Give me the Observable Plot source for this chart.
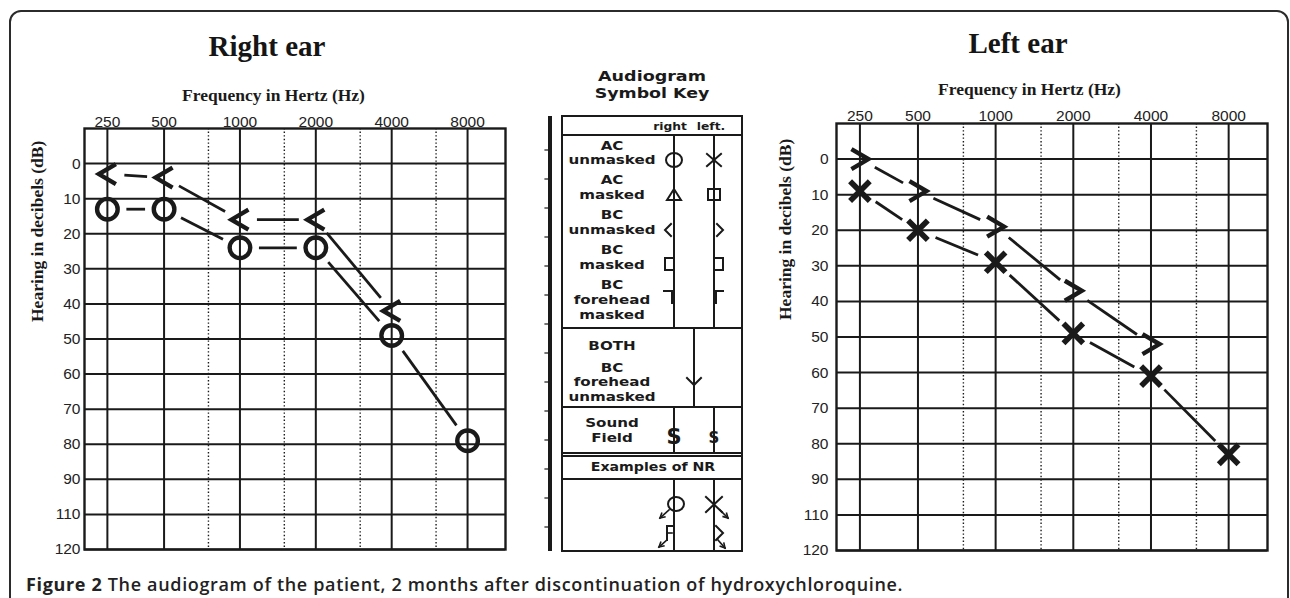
<!DOCTYPE html>
<html>
<head>
<meta charset="utf-8">
<script src="https://cdn.jsdelivr.net/npm/d3@7"></script>
<script src="https://cdn.jsdelivr.net/npm/@observablehq/plot@0.6"></script>
<style>
  html, body { margin: 0; padding: 0; background: #fff; }
  body { width: 1290px; height: 598px; overflow: hidden; position: relative; color: #1a1a1a; }
  #frame { position: absolute; left: 9px; top: 10px; width: 1280px; height: 640px; border: 2px solid #2b2b2b; border-radius: 12px; box-sizing: border-box; }
  .title { position: absolute; font-family: "Liberation Serif", serif; font-weight: bold; font-size: 29px; transform: translate(-50%, -50%); white-space: nowrap; color: #151515; }
  #caption { position: absolute; left: 26px; top: 573px; font-family: "Open Sans", sans-serif; font-size: 18px; font-weight: 600; color: #222; white-space: nowrap; line-height: 22px; }
  #caption b { font-weight: 700; }
  .chart { position: absolute; }
  .chart svg { overflow: visible; }
</style>
</head>
<body>
<div id="frame"></div>
<div class="title" style="left:267px; top:46px;">Right ear</div>
<div class="title" style="left:1018px; top:43px;">Left ear</div>
<div id="rightEar" class="chart" style="left:0px; top:70px;"></div>
<div id="key" class="chart" style="left:530px; top:60px;"></div>
<div id="leftEar" class="chart" style="left:760px; top:60px;"></div>
<div id="caption"><b>Figure 2</b> The audiogram of the patient, 2 months after discontinuation of hydroxychloroquine.</div>

<script>
// ---------------- data ----------------
const frequencies = [250, 500, 1000, 2000, 4000, 8000];
const frequencyLabels = ["250", "500", "1000", "2000", "4000", "8000"];
const midFrequencies = [750, 1500, 3000, 6000];
const dbSlots = [0, 10, 20, 30, 40, 50, 60, 70, 80, 90, 100, 110];
const dbTickLabels = ["0", "10", "20", "30", "40", "50", "60", "70", "80", "90", "110", "120"];

// Right ear (dB HL per frequency; null = not tested)
const rightAC = [13, 13, 24, 24, 49, 79];      // O  air conduction unmasked
const rightBC = [3, 4, 16, 16, 42, null];       // <  bone conduction unmasked
// Left ear
const leftAC = [9, 20, 29, 49, 61, 83];         // X  air conduction unmasked
const leftBC = [0, 9, 19, 37, 52, null];        // >  bone conduction unmasked

const xLabel = "Frequency in Hertz (Hz)";
const yLabel = "Hearing in decibels (dB)";

// ---------------- symbols ----------------
const chevronLeft = { draw(ctx, size) { const r = Math.sqrt(size / Math.PI); ctx.moveTo(0.85 * r, -r); ctx.lineTo(-0.85 * r, 0); ctx.lineTo(0.85 * r, r); } };
const chevronRight = { draw(ctx, size) { const r = Math.sqrt(size / Math.PI); ctx.moveTo(-0.85 * r, -r); ctx.lineTo(0.85 * r, 0); ctx.lineTo(-0.85 * r, r); } };

function toPoints(values) {
  return frequencies.map((f, i) => ({ f, db: values[i] })).filter(d => d.db != null);
}
function toSegments(points) {
  return d3.pairs(points).map(([a, b]) => ({ f1: a.f, d1: a.db, f2: b.f, d2: b.db }));
}

function audiogram(o) {
  const fw = o.width - o.ml - o.mr;
  const ac = toPoints(o.ac), bc = toPoints(o.bc);
  const ink = "#1a1a1a";
  const tickFont = { fontFamily: "Liberation Sans, sans-serif", fontSize: 15.5, fill: "#222" };
  return Plot.plot({
    width: o.width, height: o.height,
    marginTop: o.mt, marginRight: o.mr, marginBottom: o.mb, marginLeft: o.ml,
    style: { background: "transparent", color: ink, fontFamily: "Liberation Sans, sans-serif" },
    x: { type: "log", axis: null, domain: [189, 500, 11314], range: [o.ml, o.ml + fw * 0.189, o.ml + fw] },
    y: { axis: null, domain: [-10, 110], range: [o.mt, o.height - o.mb] },
    marks: [
      Plot.ruleX(midFrequencies, { stroke: ink, strokeWidth: 1.4, strokeDasharray: "1.4,2.2" }),
      Plot.ruleX(frequencies, { stroke: ink, strokeWidth: 2 }),
      Plot.ruleY(dbSlots, { stroke: ink, strokeWidth: 2 }),
      Plot.frame({ stroke: ink, strokeWidth: 2.4 }),
      // frequency tick labels along the top
      Plot.text(frequencies, { x: d => d, frameAnchor: "top", dy: o.xTickDy, text: (d, i) => frequencyLabels[i], ...tickFont }),
      // hearing level tick labels
      Plot.text(dbSlots, { y: d => d, frameAnchor: "left", dx: -o.yPad, textAnchor: "end", text: (d, i) => dbTickLabels[i], ...tickFont }),
      Plot.arrow(toSegments(bc), { x1: "f1", y1: "d1", x2: "f2", y2: "d2", headLength: 0, inset: 17, stroke: ink, strokeWidth: 2.8, strokeLinecap: "butt" }),
      Plot.arrow(toSegments(ac), { x1: "f1", y1: "d1", x2: "f2", y2: "d2", headLength: 0, inset: 19, stroke: ink, strokeWidth: 2.8, strokeLinecap: "butt" }),
      Plot.dot(bc, { x: "f", y: "db", symbol: o.bcSymbol, r: 10, fill: "none", stroke: ink, strokeWidth: 4.4 }),
      Plot.dot(ac, { x: "f", y: "db", symbol: o.acSymbol, r: o.acR, fill: "none", stroke: ink, strokeWidth: o.acStroke }),
      Plot.text([xLabel], { frameAnchor: "top", dy: o.xLabelDy, dx: o.xLabelDx, text: d => d, fontFamily: "Liberation Serif, serif", fontWeight: "bold", fontSize: 17.5, fill: ink }),
      Plot.text([yLabel], { frameAnchor: "left", rotate: -90, dx: o.yLabelDx, dy: -17, text: d => d, fontFamily: "Liberation Serif, serif", fontWeight: "bold", fontSize: 17.5, fill: ink })
    ]
  });
}

document.getElementById("rightEar").append(audiogram({
  width: 520, height: 490, mt: 58, mr: 15, mb: 11, ml: 84,
  ac: rightAC, bc: rightBC, acSymbol: "circle", acR: 10.3, acStroke: 4.4, bcSymbol: chevronLeft,
  xTickDy: -13, yPad: 4, xLabelDx: -21.5, xLabelDy: -40, yLabelDx: -47
}));
document.getElementById("leftEar").append(audiogram({
  width: 530, height: 500, mt: 63, mr: 23, mb: 10, ml: 76,
  ac: leftAC, bc: leftBC, acSymbol: "times", acR: 9, acStroke: 5.6, bcSymbol: chevronRight,
  xTickDy: -14, yPad: 8, xLabelDx: -22.5, xLabelDy: -41, yLabelDx: -51
}));

// ---------------- symbol key (legend) ----------------
const keyTitle = ["Audiogram", "Symbol Key"];
const keyLabels = [
  { y: 86, t: "AC" }, { y: 100, t: "unmasked" },
  { y: 120, t: "AC" }, { y: 135, t: "masked" },
  { y: 155, t: "BC" }, { y: 170, t: "unmasked" },
  { y: 190, t: "BC" }, { y: 205, t: "masked" },
  { y: 225, t: "BC" }, { y: 240, t: "forehead" }, { y: 255, t: "masked" },
  { y: 286, t: "BOTH" },
  { y: 308, t: "BC" }, { y: 322, t: "forehead" }, { y: 337, t: "unmasked" },
  { y: 363, t: "Sound" }, { y: 378, t: "Field" }
];
(function buildKey() {
  const ink = "#1a1a1a";
  const svg = d3.create("svg").attr("width", 230).attr("height", 500);
  const g = svg.append("g").attr("fill", "none").attr("stroke", ink).attr("stroke-linecap", "square");
  const L = (x1, y1, x2, y2, w = 2) => g.append("line").attr("x1", x1).attr("y1", y1).attr("x2", x2).attr("y2", y2).attr("stroke-width", w);
  const P = (d, w = 2) => g.append("path").attr("d", d).attr("stroke-width", w);
  const T = (x, y, s, size = 12, sx = 1.25) => svg.append("text")
      .attr("transform", `translate(${x},${y}) scale(${sx},1)`)
      .attr("text-anchor", "middle").attr("dominant-baseline", "central")
      .attr("font-family", "DejaVu Sans, sans-serif").attr("font-weight", "bold").attr("font-size", size).attr("fill", ink).text(s);
  const arrowHead = (x1, y1, x2, y2) => {
    L(x1, y1, x2, y2, 1.6);
    const a = Math.atan2(y2 - y1, x2 - x1), h = 5;
    P(`M${x2 - h * Math.cos(a - 0.5)},${y2 - h * Math.sin(a - 0.5)}L${x2},${y2}L${x2 - h * Math.cos(a + 0.5)},${y2 - h * Math.sin(a + 0.5)}`, 1.6);
  };
  // title
  T(122, 16, keyTitle[0], 14.5, 1.21);
  T(122, 33, keyTitle[1], 14.5, 1.2);
  // binder bar
  g.append("rect").attr("x", 18).attr("y", 56).attr("width", 4).attr("height", 435).attr("fill", ink).attr("stroke", "none");
  d3.range(90, 490, 29).forEach(y => L(15, y, 18, y, 1.2));
  // box and dividers
  g.append("rect").attr("x", 32).attr("y", 56).attr("width", 180).attr("height", 435).attr("stroke-width", 2);
  L(32, 75, 212, 75);
  L(144, 75, 144, 268); L(184, 75, 184, 268);
  L(32, 268, 212, 268);
  L(164, 268, 164, 347);
  L(32, 347, 212, 347);
  L(144, 347, 144, 393); L(184, 347, 184, 393);
  L(32, 393, 212, 393);
  L(32, 396, 212, 396);
  L(32, 419, 212, 419);
  L(144, 419, 144, 491); L(184, 419, 184, 491);
  // header
  T(140, 66, "right", 11, 1.12); T(181, 66, "left.", 11, 1.12);
  // labels
  keyLabels.forEach(d => T(82, d.y, d.t, 12, 1.26));
  T(123, 407, "Examples of NR", 12, 1.18);
  // symbols
  g.append("ellipse").attr("cx", 144).attr("cy", 100).attr("rx", 8).attr("ry", 7).attr("stroke-width", 2);
  L(177, 94, 191, 106); L(177, 106, 191, 94);
  P("M144,129L137,140L151,140Z");
  g.append("rect").attr("x", 178).attr("y", 129).attr("width", 12).attr("height", 11).attr("stroke-width", 2);
  P("M141,164L135,170L141,176");
  P("M187,164L193,170L187,176");
  P("M143,198L135,198L135,210L143,210");
  P("M185,198L193,198L193,210L185,210");
  P("M134,231L142,231L142,243");
  P("M193,231L186,231L186,243");
  P("M157,318L164,325L171,318");
  T(144, 377, "S", 21, 1);
  T(184, 378, "S", 15, 1);
  g.append("ellipse").attr("cx", 146).attr("cy", 444).attr("rx", 8).attr("ry", 7).attr("stroke-width", 2);
  arrowHead(139, 450, 130, 458);
  L(176, 437, 192, 452); L(176, 452, 192, 437);
  arrowHead(190, 450, 198, 458);
  P("M143,466L137,466L137,480");
  L(137, 473, 142, 473, 1.6);
  arrowHead(137, 480, 129, 487);
  P("M186,466L193,473L186,480");
  arrowHead(188, 480, 195, 488);
  document.getElementById("key").append(svg.node());
})();

// fit the caption to the width it spans in the reference (x 26 → 903)
(function fitCaption() {
  const el = document.getElementById("caption");
  const w = el.getBoundingClientRect().width;
  const n = el.textContent.length;
  el.style.letterSpacing = ((877 - w) / n).toFixed(2) + "px";
})();
</script>
</body>
</html>
